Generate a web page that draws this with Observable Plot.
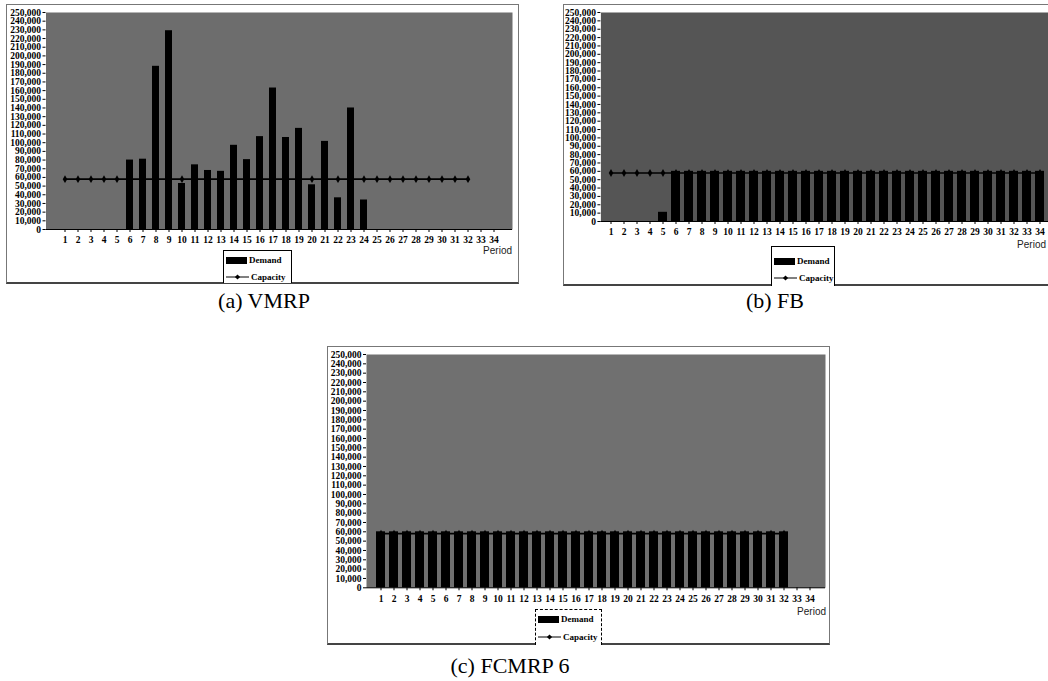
<!DOCTYPE html>
<html><head><meta charset="utf-8">
<script src="https://cdn.jsdelivr.net/npm/d3@7"></script>
<script src="https://cdn.jsdelivr.net/npm/@observablehq/plot@0.6"></script>
<style>
html,body{margin:0;padding:0;background:#fff;}
#page{position:relative;width:1048px;height:681px;overflow:hidden;background:#fff;}
.panel{position:absolute;border:1px solid #777;border-bottom:2px solid #444;box-sizing:border-box;}
.chart{position:absolute;}
.chart svg{overflow:visible;display:block;}
.legend{position:absolute;background:#fff;border:1px solid #000;box-sizing:border-box;font:bold 9px "Liberation Serif",serif;color:#000;}
.legend .row{position:absolute;left:0;height:10px;display:flex;align-items:center;white-space:nowrap;}
.period{position:absolute;font:10px "Liberation Sans",Arial,sans-serif;color:#222;line-height:10px;transform:translateX(-100%);}
.caption{position:absolute;font:22px "Liberation Serif",serif;color:#000;white-space:nowrap;line-height:22px;transform:translateX(-50%);}
</style></head><body><div id="page"></div>
<script>
const periods = [1,2,3,4,5,6,7,8,9,10,11,12,13,14,15,16,17,18,19,20,21,22,23,24,25,26,27,28,29,30,31,32,33,34];
const yTicks = [0,10000,20000,30000,40000,50000,60000,70000,80000,90000,100000,110000,120000,130000,140000,150000,160000,170000,180000,190000,200000,210000,220000,230000,240000,250000];

// (a) VMRP
const vmrpDemand = [0,0,0,0,0,80000,81000,188000,229000,53000,74500,68000,67000,97000,80500,107000,163000,106000,116500,51500,101500,36500,140000,34000,0,0,0,0,0,0,0,0,0,0];
const vmrpCapPeriods = [1,2,3,4,5,6,7,8,9,10,11,12,13,14,15,16,17,18,19,20,21,22,23,24,25,26,27,28,29,30,31,32];
const vmrpCapacity = [58000,58000,58000,58000,58000,58000,58000,58000,58000,58000,58000,58000,58000,58000,58000,58000,58000,58000,58000,58000,58000,58000,58000,58000,58000,58000,58000,58000,58000,58000,58000,58000];

// (b) FB
const fbDemand = [0,0,0,0,11000,60000,60000,60000,60000,60000,60000,60000,60000,60000,60000,60000,60000,60000,60000,60000,60000,60000,60000,60000,60000,60000,60000,60000,60000,60000,60000,60000,60000,60000];
const fbCapPeriods = [1,2,3,4,5,6,7,8,9,10,11,12,13,14,15,16,17,18,19,20,21,22,23,24,25,26,27,28,29,30,31,32,33,34];
const fbCapacity = [58000,58000,58000,58000,58000,58000,58000,58000,58000,58000,58000,58000,58000,58000,58000,58000,58000,58000,58000,58000,58000,58000,58000,58000,58000,58000,58000,58000,58000,58000,58000,58000,58000,58000];

// (c) FCMRP 6
const fcmrpDemand = [60000,60000,60000,60000,60000,60000,60000,60000,60000,60000,60000,60000,60000,60000,60000,60000,60000,60000,60000,60000,60000,60000,60000,60000,60000,60000,60000,60000,60000,60000,60000,60000,0,0];
const fcmrpCapPeriods = [1,2,3,4,5,6,7,8,9,10,11,12,13,14,15,16,17,18,19,20,21,22,23,24,25,26,27,28,29,30,31,32];
const fcmrpCapacity = [58000,58000,58000,58000,58000,58000,58000,58000,58000,58000,58000,58000,58000,58000,58000,58000,58000,58000,58000,58000,58000,58000,58000,58000,58000,58000,58000,58000,58000,58000,58000,58000];

const legendLabels = ["Demand", "Capacity"];
const axisTitle = "Period";

const page = document.getElementById("page");

function el(tag, cls, styles, text) {
  const e = document.createElement(tag);
  if (cls) e.className = cls;
  Object.assign(e.style, styles || {});
  if (text != null) e.textContent = text;
  page.appendChild(e);
  return e;
}

function panel(cfg) {
  el("div", "panel", {left: cfg.box[0]+"px", top: cfg.box[1]+"px", width: cfg.box[2]+"px", height: cfg.box[3]+"px"});
  const rows = periods.map((p, i) => ({period: p, demand: cfg.demand[i]}));
  const capRows = cfg.capPeriods.map((p, i) => ({period: p, capacity: cfg.capacity[i]}));
  const [svgL, svgT, svgW, svgH] = cfg.svg;
  const [pl, pr, pt, pb] = cfg.plot;
  const chart = Plot.plot({
    width: svgW, height: svgH,
    marginLeft: pl - svgL, marginRight: svgL + svgW - pr,
    marginTop: pt - svgT, marginBottom: svgT + svgH - pb,
    style: {fontFamily: "'Liberation Serif', serif", fontWeight: "bold", fontSize: "9.5px", color: "#000", background: "transparent", overflow: "visible"},
    x: {type: "band", domain: periods, paddingInner: cfg.pad, paddingOuter: cfg.pad / 2, label: null},
    y: {domain: [0, 250000], label: null},
    marks: [
      Plot.frame({fill: cfg.bg, stroke: null}),
      Plot.barY(rows, {x: "period", y: "demand", fill: "#000"}),
      Plot.line(capRows, {x: "period", y: "capacity", stroke: "#000", strokeWidth: 1.6}),
      Plot.dot(capRows, {x: "period", y: "capacity", symbol: "diamond", r: 2.4, fill: "#000", stroke: null}),
      Plot.ruleY([0], {stroke: "#000", strokeWidth: 1}),
      Plot.axisY({ticks: yTicks, tickFormat: d3.format(","), tickSize: 3, tickPadding: 2, line: true, label: null}),
      Plot.axisX({tickSize: 3, tickPadding: 4, label: null})
    ]
  });
  const holder = el("div", "chart", {left: svgL + "px", top: svgT + "px", width: svgW + "px", height: svgH + "px"});
  holder.appendChild(chart);

  const [lx, ly, lw, lh] = cfg.legend;
  const lg = el("div", "legend", {left: lx+"px", top: ly+"px", width: lw+"px", height: lh+"px", borderStyle: cfg.dashed ? "dashed" : "solid", borderBottom: "none"});
  const r1 = document.createElement("div");
  r1.className = "row";
  r1.style.top = (cfg.legRows[0] - 5) + "px";
  r1.innerHTML = '<span style="display:inline-block;width:21px;height:7px;background:#000;margin:0 2px 0 2px"></span>' + legendLabels[0];
  lg.appendChild(r1);
  const r2 = document.createElement("div");
  r2.className = "row";
  r2.style.top = (cfg.legRows[1] - 5) + "px";
  r2.innerHTML = '<svg width="23" height="10" style="margin:0 2px 0 2px"><line x1="0" x2="23" y1="5" y2="5" stroke="#000" stroke-width="1"/><path d="M11.5,2.4L14.1,5L11.5,7.6L8.9,5Z" fill="#000"/></svg>' + legendLabels[1];
  lg.appendChild(r2);

  el("div", "period", {left: cfg.period[0]+"px", top: (cfg.period[1]-5)+"px"}, axisTitle);
  el("div", "caption", {left: cfg.caption[0]+"px", top: (cfg.caption[1]-18.4)+"px"}, cfg.title);
}

panel({
  title: "(a) VMRP",
  demand: vmrpDemand, capPeriods: vmrpCapPeriods, capacity: vmrpCapacity,
  box: [6, 4, 513, 280],
  svg: [6, 4, 512, 252],
  plot: [45.5, 512, 12, 229],
  pad: 0.44, bg: "#6d6d6d",
  legend: [223, 250, 69, 33], legRows: [9, 26],
  period: [512, 251],
  caption: [264, 308]
});

panel({
  title: "(b) FB",
  demand: fbDemand, capPeriods: fbCapPeriods, capacity: fbCapacity,
  box: [563, 4, 520, 282],
  svg: [563, 4, 486, 240],
  plot: [600.4, 1049.2, 12, 221],
  pad: 0.28, bg: "#555555",
  legend: [771, 246, 64, 40], legRows: [14, 31],
  period: [1046, 245],
  caption: [775, 308]
});

panel({
  title: "(c) FCMRP 6",
  demand: fcmrpDemand, capPeriods: fcmrpCapPeriods, capacity: fcmrpCapacity,
  box: [327, 346, 503, 299],
  svg: [330, 346, 500, 262],
  plot: [366, 825, 354, 587.3],
  pad: 0.3, bg: "#707070",
  dashed: true,
  legend: [535, 609, 67, 36], legRows: [9, 27],
  period: [826, 612],
  caption: [510, 673]
});
</script></body></html>
